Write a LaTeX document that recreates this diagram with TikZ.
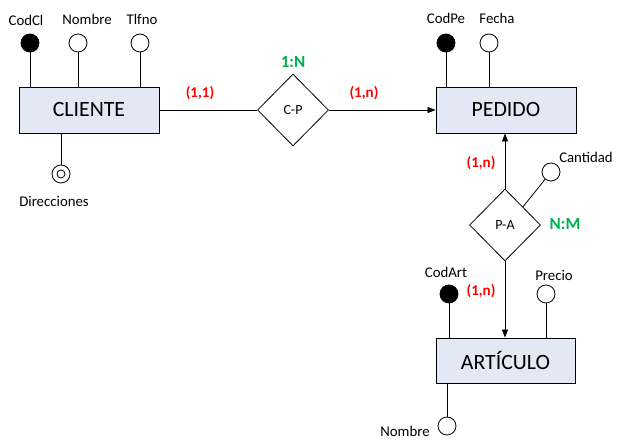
\documentclass[tikz,border=0pt]{standalone}
\usepackage{fontspec}
\setmainfont{Carlito}
\usetikzlibrary{shapes.geometric,arrows.meta}
\definecolor{boxfill}{HTML}{E2E9F4}
\definecolor{relgreen}{HTML}{00B050}
\definecolor{cardred}{HTML}{FF0000}
\begin{document}
\begin{tikzpicture}[x=1pt,y=-1pt,
  entity/.style={draw, line width=0.9pt, fill=boxfill, minimum width=140pt, minimum height=46pt, inner sep=0pt, font=\fontsize{21.8}{24}\selectfont},
  rel/.style={draw, line width=0.8pt, diamond, minimum width=71pt, minimum height=72pt, inner sep=0pt, font=\fontsize{14}{16}\selectfont},
  keyattr/.style={draw, circle, fill=black, minimum size=18pt, inner sep=0pt, line width=0.8pt},
  attr/.style={draw, circle, fill=white, minimum size=18pt, inner sep=0pt, line width=0.8pt},
  lbl/.style={font=\fontsize{14.8}{16}\selectfont, inner sep=0pt},
  card/.style={font=\bfseries\fontsize{15}{17}\selectfont, text=cardred, inner sep=0pt},
  ratio/.style={font=\bfseries\fontsize{17}{19}\selectfont, text=relgreen, inner sep=0pt},
  conn/.style={line width=0.8pt},
  arr/.style={line width=0.8pt, -{Triangle[length=8pt,width=6pt]}}
]
\useasboundingbox (0,0) rectangle (622,443);

% entities
\node[entity] (cli) at (89,110) {CLIENTE};
\node[entity] (ped) at (506,110) {PEDIDO};
\node[entity, minimum width=139pt, minimum height=45pt] (art) at (505.5,360.5) {ARTÍCULO};

% relationships
\node[rel] (cp) at (293,110) {C-P};
\node[rel] (pa) at (505,225) {P-A};

% CLIENTE attributes
\node[keyattr] (codcl) at (30,43) {};
\node[attr] (nomcl) at (78,43) {};
\node[attr] (tel) at (140,43) {};
\node[attr] (dir) at (61,174) {};
\node[draw, circle, minimum size=8pt, inner sep=0pt, line width=0.8pt] (dirin) at (dir.center) {};
\node[lbl] (lcodcl) at (26,20) {CodCl};
\node[lbl] (lnomcl) at (87,19) {Nombre};
\node[lbl] (ltel) at (142,19) {Tlfno};
\node[lbl] (ldir) at (54,201) {Direcciones};

\draw[conn] (codcl.south) -- (codcl |- cli.north);
\draw[conn] (nomcl.south) -- (nomcl |- cli.north);
\draw[conn] (tel.south) -- (tel |- cli.north);
\draw[conn] (dir.north) -- (dir |- cli.south);

% PEDIDO attributes
\node[keyattr] (codpe) at (446,43) {};
\node[attr] (fecha) at (489,43) {};
\node[lbl] (lcodpe) at (446,18) {CodPe};
\node[lbl] (lfecha) at (497,18) {Fecha};
\draw[conn] (codpe.south) -- (codpe |- ped.north);
\draw[conn] (fecha.south) -- (fecha |- ped.north);

% P-A attribute
\node[attr] (cant) at (551,172) {};
\node[lbl] (lcant) at (586,157) {Cantidad};
\draw[conn] (pa.north east) -- (cant);

% ARTICULO attributes
\node[keyattr] (codart) at (449,294) {};
\node[attr] (precio) at (546,294) {};
\node[attr] (nomart) at (447,426) {};
\node[lbl] (lcodart) at (446,272) {CodArt};
\node[lbl] (lprecio) at (554,275) {Precio};
\node[lbl] (lnomart) at (405,431) {Nombre};
\draw[conn] (codart.south) -- (codart |- art.north);
\draw[conn] (precio.south) -- (precio |- art.north);
\draw[conn] (nomart.north) -- (nomart |- art.south);

% relationship connectors
\draw[conn] (cli.east) -- (cp.west);
\draw[arr] (cp.east) -- (ped.west);
\draw[arr] (pa.north) -- (pa.north |- ped.south);
\draw[arr] (pa.south) -- (pa.south |- art.north);

% cardinalities
\node[card] (c11) at (200,93) {(1,1)};
\node[card] (c1n) at (364,93) {(1,n)};
\node[card] (c1n2) at (481,163) {(1,n)};
\node[card] (c1n3) at (481,291) {(1,n)};
\node[ratio] (r1) at (293,62) {1:N};
\node[ratio] (r2) at (565,224) {N:M};
\end{tikzpicture}
\end{document}
